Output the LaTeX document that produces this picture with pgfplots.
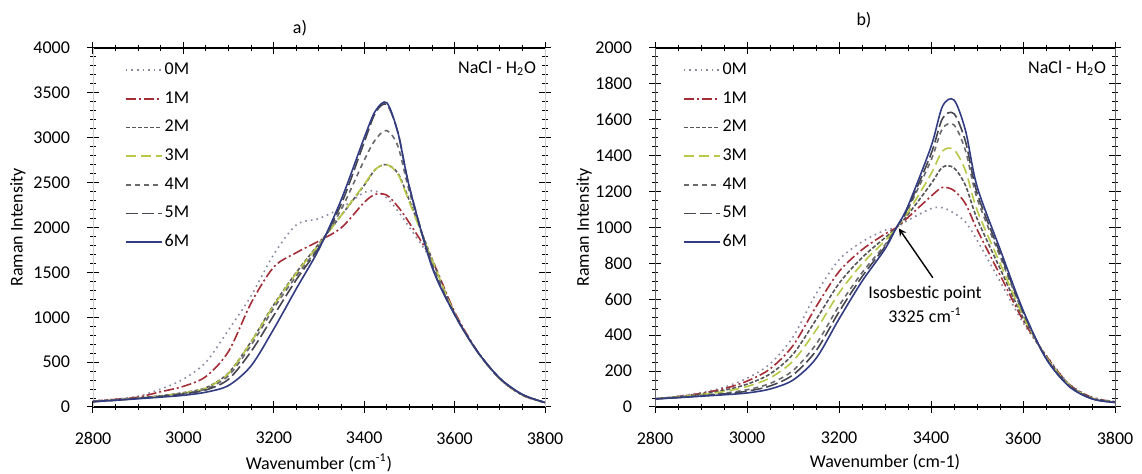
\documentclass[border=0pt]{standalone}
\usepackage{fontspec}
\setmainfont{Carlito}
\usepackage{pgfplots}
\usepackage{pgfplotstable}
\pgfplotsset{compat=1.18}

\definecolor{c0}{RGB}{140,135,160}
\definecolor{c1}{RGB}{165,45,55}
\definecolor{c2}{RGB}{85,85,90}
\definecolor{c3}{RGB}{185,200,70}
\definecolor{c4}{RGB}{105,105,110}
\definecolor{c5}{RGB}{70,70,80}
\definecolor{c6}{RGB}{50,60,130}

\pgfplotstableread{
wn    a0    a1    a2    a3    a4    a5    a6
2800  70    65    62    60    60    58    60
2850  90    85    80    78    76    75    75
2900  120   110   100   98    96    95    92
2950  200   170   125   122   120   118   110
3000  310   230   160   155   150   145   130
3050  500   340   215   210   200   190   165
3100  860   620   380   375   350   310   240
3150  1240  1160  730   725   690   620   460
3200  1700  1560  1140  1130  1100  1020  870
3250  2030  1720  1500  1490  1460  1420  1320
3300  2100  1850  1820  1810  1790  1780  1760
3350  2220  2000  2140  2140  2210  2270  2320
3400  2390  2280  2470  2480  2750  2950  3000
3425  2405  2370  2650  2650  2980  3280  3300
3450  2330  2360  2700  2700  3080  3370  3390
3475  2180  2230  2600  2590  2900  3050  3050
3500  2000  2050  2300  2280  2400  2450  2450
3550  1620  1640  1650  1640  1600  1570  1560
3600  1050  1060  1040  1040  1030  1030  1030
3650  620   625   620   620   620   620   620
3700  310   315   315   315   318   320   320
3750  130   132   135   135   137   138   140
3800  50    50    50    50    50    50    50
}\tableA

\pgfplotstableread{
wn    b0    b1    b2    b3    b4    b5    b6
2800  45    45    45    45    45    45    45
2850  60    58    57    56    54    53    52
2900  80    76    72    69    64    62    60
2950  110   102   93    86    77    73    68
3000  160   144   127   114   96    88    78
3050  240   212   184   162   131   117   100
3100  390   342   294   256   203   179   150
3150  630   558   486   428   349   313   270
3200  820   754   688   635   563   530   490
3250  920   876   832   797   748   726   700
3300  985   964   943   926   903   893   880
3325  1000  1000  1000  1000  1000  1000  1000
3350  1040  1056  1072  1085  1102  1110  1120
3400  1105  1174  1243  1298  1374  1409  1450
3425  1110  1223  1336  1426  1551  1607  1675
3450  1080  1206  1332  1433  1571  1634  1710
3475  1030  1132  1234  1316  1428  1479  1540
3500  930   990   1050  1098  1164  1194  1230
3550  700   736   772   801   840   858   880
3600  470   484   498   509   525   532   540
3650  290   286   282   279   274   272   270
3700  130   127   124   122   118   117   115
3750  55    53    51    49    47    46    45
3800  30    29    28    27    26    26    25
}\tableB

\pgfplotsset{
  legline/.style={legend image code/.code={\draw[##1] (0pt,0pt) -- (18pt,0pt);}},
  ramanaxis/.style={
    scale only axis,
    height=179.5pt,
    xmin=2800, xmax=3800,
    ymin=0,
    xtick={2800,3000,...,3800},
    minor x tick num=3,
    tick align=center,
    major tick length=6pt,
    minor tick length=3pt,
    tick style={black, line width=0.5pt},
    separate axis lines,
    x axis line style={black, line width=0.6pt},
    font=\fontsize{9}{10.8}\selectfont,
    /pgf/number format/assume math mode=true,
    /pgf/number format/1000 sep={},
    xticklabel style={yshift=-6pt},
    yticklabel style={xshift=-5pt},
    ylabel={Raman Intensity},
    legend cell align=left,
    legend style={draw=none, fill=none, inner sep=0pt, row sep=5pt,
      font=\fontsize{9}{10.8}\selectfont,
      nodes={inner sep=1pt}},
    every axis plot/.append style={line width=0.8pt, smooth},
  },
  s0/.style={color=c0, dotted},
  s1/.style={color=c1, dash pattern=on 5pt off 1.5pt on 1pt off 1.5pt},
  s2/.style={color=c2, dash pattern=on 2pt off 1pt},
  s3/.style={color=c3, dash pattern=on 5pt off 2.5pt},
  s4/.style={color=c4, dash pattern=on 2.5pt off 2pt},
  s5/.style={color=c5, dash pattern=on 6pt off 2pt},
  s6/.style={color=c6, solid},
}

\begin{document}
\begin{tikzpicture}
\useasboundingbox (0,0) rectangle (571pt,237pt);

\begin{axis}[ramanaxis,
  at={(46.5pt,33.5pt)}, anchor=south west,
  width=226pt,
  ymax=4000,
  ytick={0,500,...,4000},
  minor y tick num=4,
  y axis line style={black!20, line width=0.4pt},
  ylabel style={at={(axis description cs:-0.166,0.5)}, anchor=center},
  xlabel={Wavenumber (cm\textsuperscript{-1})},
  xlabel style={at={(axis description cs:0.5,-0.155)}, anchor=center},
  legend style={at={(axis description cs:0.07,0.965)}, anchor=north west},
]
\addlegendimage{s0, line width=0.8pt, legline}
\addlegendimage{s1, line width=0.8pt, legline}
\addlegendimage{s2, line width=0.8pt, legline}
\addlegendimage{s3, line width=0.8pt, legline}
\addlegendimage{s4, line width=0.8pt, legline}
\addlegendimage{s5, line width=0.8pt, legline}
\addlegendimage{s6, line width=0.8pt, legline}
\legend{0M,1M,2M,3M,4M,5M,6M}
\addplot[s0, forget plot] table[x=wn,y=a0] {\tableA};
\addplot[s1, forget plot] table[x=wn,y=a1] {\tableA};
\addplot[s2, forget plot] table[x=wn,y=a2] {\tableA};
\addplot[s3, forget plot] table[x=wn,y=a3] {\tableA};
\addplot[s4, forget plot] table[x=wn,y=a4] {\tableA};
\addplot[s5, forget plot] table[x=wn,y=a5] {\tableA};
\addplot[s6, forget plot] table[x=wn,y=a6] {\tableA};
\node[anchor=north east, inner sep=2pt] at (rel axis cs:0.99,0.975) {NaCl - H\textsubscript{2}O};
\end{axis}

\begin{axis}[ramanaxis,
  at={(327.5pt,33.5pt)}, anchor=south west,
  width=230pt,
  ymax=2000,
  ytick={0,200,...,2000},
  minor y tick num=3,
  y axis line style={black!60, line width=0.5pt},
  ylabel style={at={(axis description cs:-0.154,0.5)}, anchor=center},
  xlabel={Wavenumber (cm-1)},
  xlabel style={at={(axis description cs:0.5,-0.155)}, anchor=center},
  legend style={at={(axis description cs:0.06,0.965)}, anchor=north west},
]
\addlegendimage{s0, line width=0.8pt, legline}
\addlegendimage{s1, line width=0.8pt, legline}
\addlegendimage{s2, line width=0.8pt, legline}
\addlegendimage{s3, line width=0.8pt, legline}
\addlegendimage{s4, line width=0.8pt, legline}
\addlegendimage{s5, line width=0.8pt, legline}
\addlegendimage{s6, line width=0.8pt, legline}
\legend{0M,1M,2M,3M,4M,5M,6M}
\addplot[s0, forget plot] table[x=wn,y=b0] {\tableB};
\addplot[s1, forget plot] table[x=wn,y=b1] {\tableB};
\addplot[s2, forget plot] table[x=wn,y=b2] {\tableB};
\addplot[s3, forget plot] table[x=wn,y=b3] {\tableB};
\addplot[s4, forget plot] table[x=wn,y=b4] {\tableB};
\addplot[s5, forget plot] table[x=wn,y=b5] {\tableB};
\addplot[s6, forget plot] table[x=wn,y=b6] {\tableB};
\node[anchor=north east, inner sep=2pt] at (rel axis cs:0.99,0.975) {NaCl - H\textsubscript{2}O};
\draw[-stealth, black, line width=0.7pt] (axis cs:3404,720) -- (axis cs:3330,995);
\node[align=center, inner sep=0pt, font=\fontsize{9}{12}\selectfont] at (axis cs:3387,570) {Isosbestic point\\3325 cm\textsuperscript{-1}};
\end{axis}

\node[font=\fontsize{9}{10.8}\selectfont] at (150pt,223pt) {a)};
\node[font=\fontsize{9}{10.8}\selectfont] at (432pt,227pt) {b)};
\end{tikzpicture}
\end{document}
